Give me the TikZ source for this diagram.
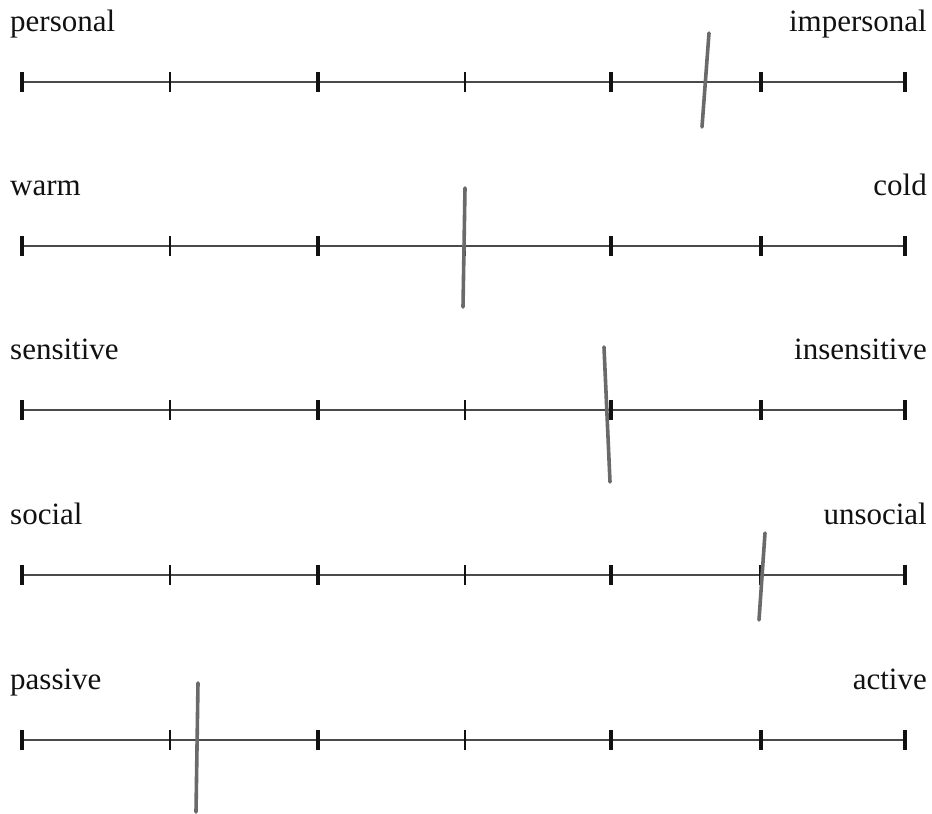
\documentclass[tikz,border=0pt]{standalone}
\usepackage{fontspec}
\setmainfont{Liberation Serif}
\usepackage{tikz}
\usetikzlibrary{positioning}
\definecolor{ScaleInk}{HTML}{111111}
\definecolor{ScaleLine}{HTML}{4A4A4A}
\definecolor{PencilGray}{HTML}{6A6A6A}
\tikzset{
  polelabel/.style={font=\fontsize{31}{33}\selectfont,text=ScaleInk,inner sep=0pt},
  scaleline/.style={line width=1.3pt,draw=ScaleLine},
  scaletick/.style={line width=4pt,draw=ScaleInk},
  thintick/.style={line width=2.6pt,draw=ScaleInk},
  pencilmark/.style={line width=3.6pt,draw=PencilGray,line cap=round}
}
\begin{document}
\begin{tikzpicture}[x=1pt,y=-1pt]
\useasboundingbox (0,0) rectangle (932,814);
% the five scales
\foreach \row/\y/\lpole/\rpole in {1/82/personal/impersonal,2/246/warm/cold,3/410/sensitive/insensitive,4/575/social/unsocial,5/740/passive/active}{
  \node[polelabel,anchor=base west] (lpole\row) at (10,\y-51) {\lpole};
  \node[polelabel,anchor=base east] (rpole\row) at (927,\y-51) {\rpole};
  \foreach \i/\x in {0/22,1/170,2/318,3/465,4/611,5/761,6/905}
    \coordinate (t\row-\i) at (\x,\y);
  \draw[scaleline] (t\row-0) -- (t\row-6);
  \foreach \i in {0,2,4,5,6}
    \draw[scaletick] ([yshift=10pt]t\row-\i) -- ([yshift=-10pt]t\row-\i);
  \foreach \i in {1,3}
    \draw[thintick] ([yshift=10pt]t\row-\i) -- ([yshift=-10pt]t\row-\i);
}
% pencil marks
\foreach \row/\xa/\ya/\xb/\yb in {1/709/33/702/127,2/465/188/463/307,3/604/347/610/482,4/765/533/759/620,5/198/683/196/812}{
  \coordinate (mtop\row) at (\xa,\ya);
  \coordinate (mbot\row) at (\xb,\yb);
  \draw[pencilmark] (mtop\row) -- (mbot\row);
}
\end{tikzpicture}
\end{document}
